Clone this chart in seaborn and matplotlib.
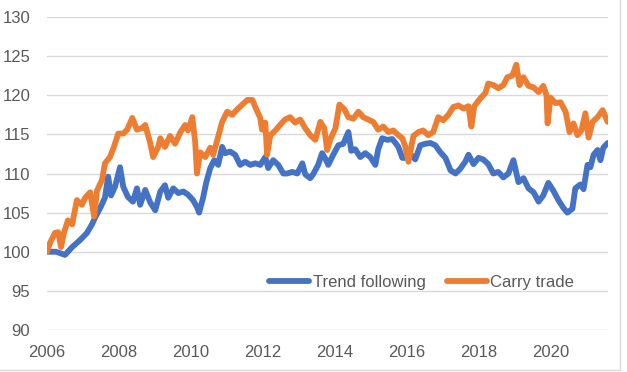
import matplotlib
matplotlib.use("Agg")
import matplotlib.pyplot as plt
from matplotlib.patches import Rectangle
import pandas as pd
import seaborn as sns

# values (decimal years, index level)
trend_years = [
    2006.00, 2006.25, 2006.50, 2006.70, 2006.92,
    2007.11, 2007.25, 2007.34, 2007.48, 2007.61, 2007.70, 2007.78, 2007.89,
    2008.03, 2008.12, 2008.25, 2008.39, 2008.50, 2008.59, 2008.73, 2008.87,
    2009.01, 2009.15, 2009.28, 2009.37, 2009.51, 2009.65, 2009.79, 2009.92,
    2010.06, 2010.17, 2010.23, 2010.34, 2010.43, 2010.54, 2010.65, 2010.76, 2010.87, 2010.95,
    2011.09, 2011.23, 2011.37, 2011.51, 2011.65, 2011.79, 2011.93,
    2012.07, 2012.15, 2012.29, 2012.43, 2012.57, 2012.68, 2012.82, 2012.96,
    2013.10, 2013.18, 2013.32, 2013.40, 2013.54, 2013.65, 2013.74, 2013.82, 2013.96,
    2014.10, 2014.24, 2014.38, 2014.46, 2014.57, 2014.71, 2014.85, 2014.99,
    2015.13, 2015.21, 2015.32, 2015.46, 2015.60, 2015.69, 2015.77, 2015.88, 2015.96,
    2016.10, 2016.24, 2016.38, 2016.52, 2016.66, 2016.80, 2016.94,
    2017.08, 2017.22, 2017.36, 2017.49, 2017.63, 2017.72, 2017.86,
    2018.00, 2018.13, 2018.27, 2018.41, 2018.55, 2018.69, 2018.83, 2018.97,
    2019.11, 2019.25, 2019.39, 2019.53, 2019.67, 2019.80, 2019.94,
    2020.08, 2020.22, 2020.36, 2020.47, 2020.61, 2020.69, 2020.83, 2020.92,
    2021.03, 2021.11, 2021.20, 2021.31, 2021.39, 2021.47, 2021.59,
]
trend_index = [
    100.0, 100.0, 99.6, 100.6, 101.5,
    102.4, 103.5, 104.4, 105.6, 106.9, 109.6, 107.2, 108.3,
    110.8, 108.3, 107.0, 106.4, 108.1, 106.0, 107.9, 106.3,
    105.3, 107.7, 108.5, 106.9, 108.1, 107.5, 107.7, 107.3,
    106.6, 105.7, 105.0, 106.9, 108.9, 110.7, 111.7, 111.1, 113.4, 112.6,
    112.8, 112.4, 111.1, 111.5, 111.1, 111.3, 111.1,
    112.1, 110.7, 111.7, 111.1, 110.0, 110.0, 110.2, 110.0,
    111.3, 109.9, 109.4, 109.9, 111.1, 112.6, 111.9, 111.1, 112.4,
    113.6, 113.8, 115.3, 112.9, 113.1, 112.1, 112.6, 112.1,
    111.1, 113.1, 114.5, 114.3, 114.4, 113.9, 113.4, 112.0, 112.0,
    112.5, 111.8, 113.6, 113.8, 113.9, 113.6, 112.7,
    112.0, 110.4, 110.0, 110.6, 111.5, 112.4, 111.2,
    112.0, 111.8, 111.2, 110.0, 110.2, 109.5, 110.0, 111.7,
    108.9, 109.4, 108.1, 107.6, 106.4, 107.2, 108.8,
    107.8, 106.6, 105.6, 105.0, 105.5, 108.1, 108.6, 108.0,
    111.1, 110.8, 112.4, 113.0, 111.7, 113.3, 113.9,
]

carry_years = [
    2006.00, 2006.08, 2006.22, 2006.31, 2006.39, 2006.47, 2006.58, 2006.70, 2006.83, 2006.97,
    2007.06, 2007.20, 2007.31, 2007.39, 2007.53, 2007.61, 2007.75, 2007.86, 2007.98,
    2008.12, 2008.23, 2008.37, 2008.50, 2008.64, 2008.73, 2008.87, 2008.95,
    2009.09, 2009.15, 2009.28, 2009.42, 2009.56, 2009.70, 2009.84, 2009.92,
    2010.04, 2010.12, 2010.17, 2010.26, 2010.40, 2010.54, 2010.62, 2010.73, 2010.87,
    2011.01, 2011.15, 2011.29, 2011.43, 2011.57, 2011.71, 2011.82, 2011.93, 2011.98,
    2012.07, 2012.12, 2012.21, 2012.35, 2012.48, 2012.62, 2012.76, 2012.90,
    2013.04, 2013.18, 2013.32, 2013.46, 2013.60, 2013.71, 2013.79, 2013.88,
    2014.02, 2014.13, 2014.27, 2014.38, 2014.52, 2014.66, 2014.79, 2014.93,
    2015.07, 2015.21, 2015.35, 2015.49, 2015.63, 2015.77, 2015.88, 2015.96,
    2016.05, 2016.19, 2016.33, 2016.46, 2016.60, 2016.74, 2016.88,
    2017.02, 2017.16, 2017.30, 2017.44, 2017.58, 2017.72, 2017.80, 2017.88,
    2018.05, 2018.19, 2018.27, 2018.41, 2018.55, 2018.69, 2018.80, 2018.94,
    2019.05, 2019.14, 2019.25, 2019.39, 2019.53, 2019.67, 2019.80, 2019.89, 2019.92,
    2020.00, 2020.14, 2020.28, 2020.42, 2020.53, 2020.64, 2020.75, 2020.86, 2020.97,
    2021.06, 2021.17, 2021.31, 2021.45, 2021.59,
]
carry_index = [
    100.0, 101.1, 102.4, 102.5, 100.6, 102.4, 104.0, 103.5, 106.6, 106.0,
    106.9, 107.6, 104.5, 107.8, 109.2, 111.3, 112.1, 113.4, 115.1,
    115.1, 115.6, 117.1, 115.6, 115.8, 116.2, 113.9, 112.1,
    113.4, 114.5, 113.4, 114.8, 113.8, 115.2, 116.2, 115.5,
    117.2, 114.0, 110.0, 112.7, 112.1, 113.3, 112.4, 114.2, 116.6,
    117.9, 117.5, 118.2, 118.8, 119.4, 119.4, 118.2, 117.1, 115.6,
    116.5, 112.4, 114.9, 115.5, 116.2, 116.9, 117.2, 116.5,
    116.9, 115.8, 114.9, 114.3, 116.6, 115.8, 113.0, 114.4,
    115.8, 118.8, 118.2, 117.2, 117.0, 117.9, 117.2, 116.9,
    116.6, 115.6, 116.0, 115.3, 115.5, 114.9, 114.5, 113.5,
    111.5, 114.8, 115.3, 115.5, 114.9, 115.3, 117.2,
    116.8, 117.5, 118.5, 118.7, 118.3, 118.6, 116.0, 118.6,
    119.6, 120.3, 121.5, 121.3, 120.9, 121.3, 122.3, 122.5,
    123.9, 121.3, 122.3, 121.2, 121.0, 120.4, 121.2, 120.0, 116.4,
    119.7, 119.0, 119.1, 117.9, 115.3, 116.4, 114.9, 115.5, 117.7,
    114.6, 116.6, 117.2, 118.1, 116.6,
]

series_names = ["Trend following", "Carry trade"]
series_colors = ["#4472C4", "#ED7D31"]
year_ticks = [2006, 2008, 2010, 2012, 2014, 2016, 2018, 2020]
value_ticks = [90, 95, 100, 105, 110, 115, 120, 125, 130]


def build_frame():
    trend = pd.DataFrame({"year": trend_years, "index": trend_index,
                          "series": series_names[0]})
    carry = pd.DataFrame({"year": carry_years, "index": carry_index,
                          "series": series_names[1]})
    return pd.concat([trend, carry], ignore_index=True)


def plot(df):
    sns.set_style("white")
    plt.rcParams["font.family"] = ["Liberation Sans", "DejaVu Sans"]

    fig = plt.figure(figsize=(6.27, 3.72), dpi=100)
    ax = fig.add_axes([0.075, 0.1129, 0.8947, 0.8414])

    sns.lineplot(data=df, x="year", y="index", hue="series",
                 hue_order=series_names, palette=series_colors,
                 estimator=None, sort=False, linewidth=4.2, ax=ax)

    ax.set_xlim(2006, 2021.6)
    ax.set_ylim(90, 130)
    ax.set_xticks(year_ticks)
    ax.set_yticks(value_ticks)
    ax.set_xlabel("")
    ax.set_ylabel("")
    ax.yaxis.grid(True, color="#D9D9D9", linewidth=1.0)
    ax.xaxis.grid(False)
    ax.set_axisbelow(True)
    for s in ax.spines.values():
        s.set_visible(False)
    ax.tick_params(axis="both", length=0, labelsize=12, colors="#595959")
    ax.tick_params(axis="y", pad=12)
    ax.tick_params(axis="x", pad=11)

    handles, labels = ax.get_legend_handles_labels()
    leg = ax.legend(handles, labels, loc="center", bbox_to_anchor=(0.668, 0.153),
                    ncol=2, frameon=False, fontsize=12, handlelength=2.4,
                    handletextpad=0.2, columnspacing=1.3)
    for h in leg.get_lines():
        h.set_linewidth(4.2)
    for t in leg.get_texts():
        t.set_color("#595959")

    # light chart-area border as in the original
    fig.patches.append(Rectangle((-0.01, 0.0067), 0.9996, 1.02,
                                 transform=fig.transFigure, fill=False,
                                 edgecolor="#D9D9D9", linewidth=1.0))

    fig.savefig("out.png", dpi=100)


def main():
    df = build_frame()
    plot(df)


if __name__ == "__main__":
    main()
